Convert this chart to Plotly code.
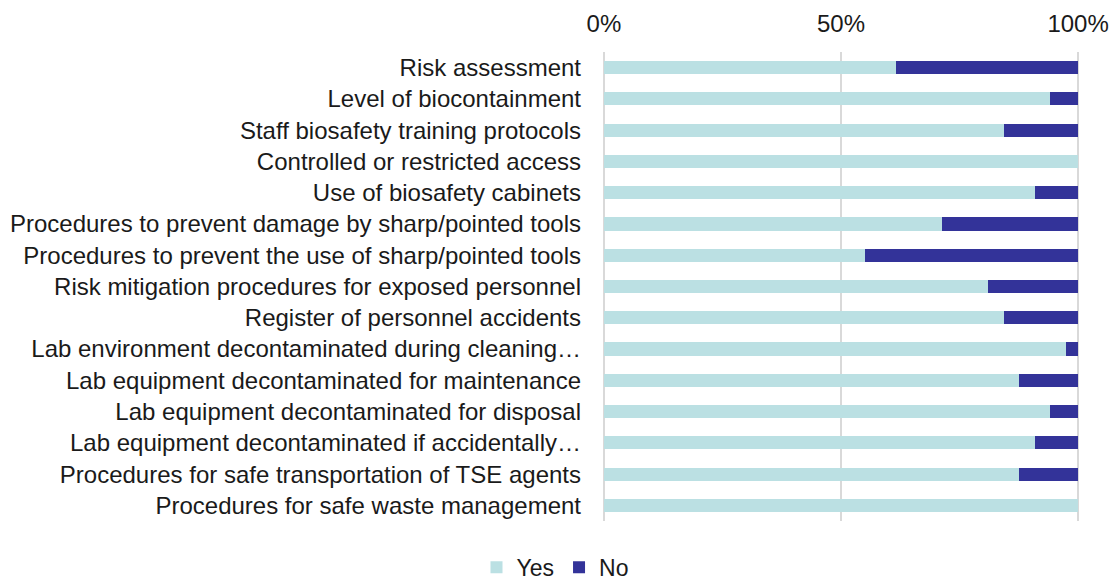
import plotly.graph_objects as go

categories = [
    "Risk assessment",
    "Level of biocontainment",
    "Staff biosafety training protocols",
    "Controlled or restricted access",
    "Use of biosafety cabinets",
    "Procedures to prevent damage by sharp/pointed tools",
    "Procedures to prevent the use of sharp/pointed tools",
    "Risk mitigation procedures for exposed personnel",
    "Register of personnel accidents",
    "Lab environment decontaminated during cleaning…",
    "Lab equipment decontaminated for maintenance",
    "Lab equipment decontaminated for disposal",
    "Lab equipment decontaminated if accidentally…",
    "Procedures for safe transportation of TSE agents",
    "Procedures for safe waste management",
]
yes_vals = [61.5, 94.1, 84.4, 100.0, 90.9, 71.3, 55.0, 81.1, 84.4, 97.4, 87.6, 94.1, 90.9, 87.6, 100.0]
no_vals = [100 - v for v in yes_vals]
tick_vals = [0, 0.5, 1]
tick_text = ["0%", "50%", "100%"]

fig = go.Figure()
fig.add_trace(go.Bar(y=categories, x=[v / 100 for v in yes_vals], name="Yes", orientation="h",
                     marker=dict(color="#BBE0E3", line=dict(width=0)), width=0.42))
fig.add_trace(go.Bar(y=categories, x=[v / 100 for v in no_vals], name="No", orientation="h",
                     marker=dict(color="#333399", line=dict(width=0)), width=0.42))

fig.update_layout(
    barmode="stack",
    width=1110, height=580,
    margin=dict(l=602, r=30, t=52, b=59),
    paper_bgcolor="white", plot_bgcolor="white",
    font=dict(family="Liberation Sans, Arial, sans-serif", size=24, color="#1a1a1a"),
    xaxis=dict(side="top", range=[-0.004, 1.004], tickvals=tick_vals, ticktext=tick_text,
               showgrid=True, gridcolor="#D9D9D9", gridwidth=2, zeroline=False,
               showline=False, ticks="", automargin=False, ticklabelstandoff=14),
    yaxis=dict(autorange="reversed", showgrid=False, ticks="", showline=False,
               ticklabelstandoff=20, automargin=False),
    legend=dict(orientation="h", xref="container", yref="container", x=0.5, y=0.022,
                xanchor="center", yanchor="middle", font=dict(size=23), traceorder="normal",
                itemwidth=30),
    showlegend=True,
)

fig.write_html("out.html", config={"displayModeBar": False},
               post_script="document.body.style.margin='0';")
